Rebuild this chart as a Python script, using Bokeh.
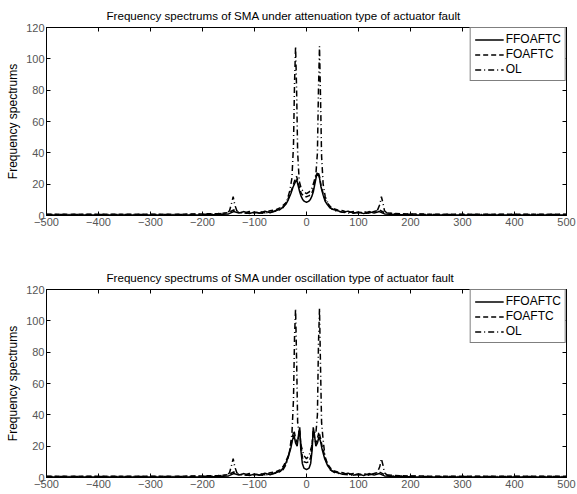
from bokeh.plotting import figure
from bokeh.models import LinearAxis, Range1d, Legend, LegendItem, FixedTicker, CustomLabelingPolicy
from bokeh.layouts import column
from bokeh.embed import file_html
from bokeh.resources import INLINE

FONT = "Liberation Sans"

titles = ["Frequency spectrums of SMA under attenuation type of actuator fault",
          "Frequency spectrums of SMA under oscillation type of actuator fault"]
series_names = ["FFOAFTC", "FOAFTC", "OL"]
y_label = "Frequency spectrums"
x_ticks = [-500, -400, -300, -200, -100, 0, 100, 200, 300, 400, 500]
y_ticks = [0, 20, 40, 60, 80, 100, 120]

# frequency grids
f_ctrl_top = [-500, -400, -300, -250, -200, -170, -150, -140, -130, -120, -110, -100, -90, -80, -70,
              -60, -50, -45, -40, -35, -30, -26, -22, -19, -16, -13, -10, -7, -4, 0,
              4, 7, 10, 13, 16, 19, 22, 25, 28, 32, 36, 40, 45, 50, 60,
              70, 80, 90, 100, 110, 120, 130, 140, 150, 170, 200, 250, 300, 400, 500]
f_ctrl_bot = [-500, -400, -300, -250, -200, -170, -150, -140, -130, -120, -110, -100, -90, -80, -70,
              -60, -50, -45, -40, -35, -30, -27, -24, -21, -18, -15, -13, -11, -8, -5, 0,
              5, 8, 11, 13, 15, 18, 21, 24, 27, 30, 35, 40, 45, 50, 60,
              70, 80, 90, 100, 110, 120, 130, 140, 150, 170, 200, 250, 300, 400, 500]
f_ol = [-500, -400, -300, -250, -200, -170, -155, -148, -144, -141, -138, -134, -128, -115, -100,
        -85, -70, -55, -45, -38, -32, -28, -25, -23, -21, -19, -17, -14, -10, -5,
        0, 5, 10, 14, 18, 21, 23, 25, 27, 29, 32, 36, 45, 55, 70,
        85, 100, 115, 128, 136, 141, 144, 147, 150, 155, 170, 200, 250, 300, 400, 500]

# attenuation fault (top)
ffoaftc_top = [0.3, 0.3, 0.3, 0.3, 0.4, 0.6, 1.0, 2.5, 1.5, 2.5, 1.2, 2.2, 1.5, 2.8, 1.8,
               3.0, 4.0, 5.5, 7, 10, 14, 18, 21, 23, 19, 15, 12, 10, 9, 8.5,
               9, 10, 12, 15, 20, 25, 27, 24, 18, 13, 9, 7, 5, 4, 3,
               2, 2.8, 1.5, 2.2, 1.2, 2.5, 1.5, 2.5, 1.0, 0.6, 0.4, 0.3, 0.3, 0.3, 0.3]
foaftc_top = [0.8, 0.8, 0.8, 0.8, 1.0, 1.2, 1.8, 3.5, 2.0, 1.5, 2.5, 1.5, 2.5, 1.8, 3.0,
              3.5, 5.0, 6.5, 8, 11, 15, 19, 23, 25, 21, 17, 14, 13, 12, 12,
              12.5, 13, 14, 17, 22, 26, 28, 25, 19, 14, 10, 8, 6, 4.5, 3.5,
              3, 1.8, 2.5, 1.5, 2.5, 1.5, 2.5, 3.5, 1.8, 1.2, 1.0, 0.8, 0.8, 0.8, 0.8]
ol_top = [0.6, 0.6, 0.6, 0.6, 0.8, 1.0, 1.5, 3, 8, 12, 7, 3, 2, 1.5, 2,
          1.5, 2, 3, 5, 9, 16, 24, 45, 85, 108, 80, 40, 22, 17, 15,
          14, 15, 17, 21, 26, 40, 80, 108, 75, 38, 20, 12, 5, 3, 2,
          1.5, 2, 1.5, 2, 3, 7, 12, 8, 3, 1.5, 1.0, 0.8, 0.6, 0.6, 0.6, 0.6]

# oscillation fault (bottom)
ffoaftc_bot = [0.3, 0.3, 0.3, 0.3, 0.4, 0.6, 1.0, 2.5, 1.5, 2.5, 1.2, 2.2, 1.5, 2.8, 1.8,
               3.0, 4.0, 6, 9, 13, 19, 24, 27, 22, 20, 28, 32, 18, 9, 6, 5,
               6, 9, 18, 32, 28, 20, 22, 26, 23, 18, 12, 8, 5.5, 4, 3,
               2, 2.8, 1.5, 2.2, 1.2, 2.5, 1.5, 2.5, 1.0, 0.6, 0.4, 0.3, 0.3, 0.3, 0.3]
foaftc_bot = [0.8, 0.8, 0.8, 0.8, 1.0, 1.2, 1.8, 3.5, 2.0, 1.5, 2.5, 1.5, 2.5, 1.8, 3.0,
              3.5, 5.0, 7, 10, 14, 20, 26, 30, 25, 22, 26, 30, 22, 13, 10, 9.5,
              10, 13, 22, 30, 26, 22, 25, 29, 25, 20, 14, 9, 6.5, 4.5, 3.5,
              3, 1.8, 2.5, 1.5, 2.5, 1.5, 2.5, 3.5, 1.8, 1.2, 1.0, 0.8, 0.8, 0.8, 0.8]
ol_bot = [0.6, 0.6, 0.6, 0.6, 0.8, 1.0, 1.5, 3, 8, 12, 7, 3, 2, 1.5, 2,
          1.5, 2, 3, 5, 9, 18, 28, 50, 90, 108, 75, 35, 28, 20, 14,
          12, 14, 20, 30, 28, 40, 85, 108, 70, 35, 24, 12, 5, 3, 2,
          1.5, 2, 1.5, 2, 3, 7, 12, 8, 3, 1.5, 1.0, 0.8, 0.6, 0.6, 0.6, 0.6]

HIDE_ALL = "for (const i of indices) indices.unset(i)"


def make_fig(title, f_ctrl, ffo, foa, ol, height, b_top, b_bottom):
    p = figure(width=577, height=height, x_range=Range1d(-500, 500), y_range=Range1d(0, 120),
               output_backend="svg", toolbar_location=None,
               min_border_left=46, min_border_right=11, min_border_top=b_top,
               min_border_bottom=b_bottom)
    p.title.text = title
    p.title.text_font = FONT
    p.title.text_font_size = "11.6px"
    p.title.text_font_style = "normal"
    p.title.text_color = "black"
    p.title.align = "left"
    p.title.offset = 60
    p.title.standoff = 4
    p.xgrid.visible = False
    p.ygrid.visible = False
    p.outline_line_color = "black"
    p.outline_line_width = 1

    for ax, ticks in ((p.xaxis[0], x_ticks), (p.yaxis[0], y_ticks)):
        ax.ticker = FixedTicker(ticks=ticks)
        ax.major_tick_in = 4
        ax.major_tick_out = 0
        ax.minor_tick_line_color = None
        ax.major_label_text_font = FONT
        ax.major_label_text_font_size = "11px"
        ax.major_label_text_color = "#555555"
        ax.major_label_standoff = 2
        ax.axis_line_color = "black"
        ax.major_tick_line_color = "black"
    p.yaxis[0].axis_label = y_label
    p.yaxis[0].axis_label_text_font = FONT
    p.yaxis[0].axis_label_text_font_size = "12px"
    p.yaxis[0].axis_label_text_font_style = "normal"
    p.yaxis[0].axis_label_text_color = "black"
    p.yaxis[0].axis_label_standoff = 3

    top_ax = LinearAxis(ticker=FixedTicker(ticks=x_ticks), major_tick_in=4, major_tick_out=0,
                        minor_tick_line_color=None, major_label_text_font_size="1px",
                        major_label_policy=CustomLabelingPolicy(code=HIDE_ALL),
                        major_label_standoff=0, axis_line_color="black")
    right_ax = LinearAxis(ticker=FixedTicker(ticks=y_ticks), major_tick_in=4, major_tick_out=0,
                          minor_tick_line_color=None, major_label_text_font_size="1px",
                          major_label_policy=CustomLabelingPolicy(code=HIDE_ALL),
                          major_label_standoff=0, axis_line_color="black")
    p.add_layout(top_ax, "above")
    p.add_layout(right_ax, "right")

    r1 = p.line(f_ctrl, ffo, line_color="black", line_width=1.5)
    r2 = p.line(f_ctrl, foa, line_color="black", line_width=1.5, line_dash="5 3")
    r3 = p.line(f_ol, ol, line_color="black", line_width=1.5, line_dash="6 3 1 3")

    legend = Legend(items=[LegendItem(label=series_names[0], renderers=[r1]),
                           LegendItem(label=series_names[1], renderers=[r2]),
                           LegendItem(label=series_names[2], renderers=[r3])],
                    location="top_right", margin=0, padding=4, spacing=1,
                    label_height=13, glyph_height=13, glyph_width=29, label_standoff=2,
                    label_text_font=FONT, label_text_font_size="12px",
                    label_text_color="black",
                    border_line_color="black", border_line_width=1,
                    background_fill_color="white", background_fill_alpha=1)
    p.add_layout(legend, "center")
    return p


p1 = make_fig(titles[0], f_ctrl_top, ffoaftc_top, foaftc_top, ol_top, 262, 27, 47)
p2 = make_fig(titles[1], f_ctrl_bot, ffoaftc_bot, foaftc_bot, ol_bot, 232, 27, 17)

layout = column(p1, p2, spacing=0)
open("out.html", "w").write(file_html(layout, INLINE))
